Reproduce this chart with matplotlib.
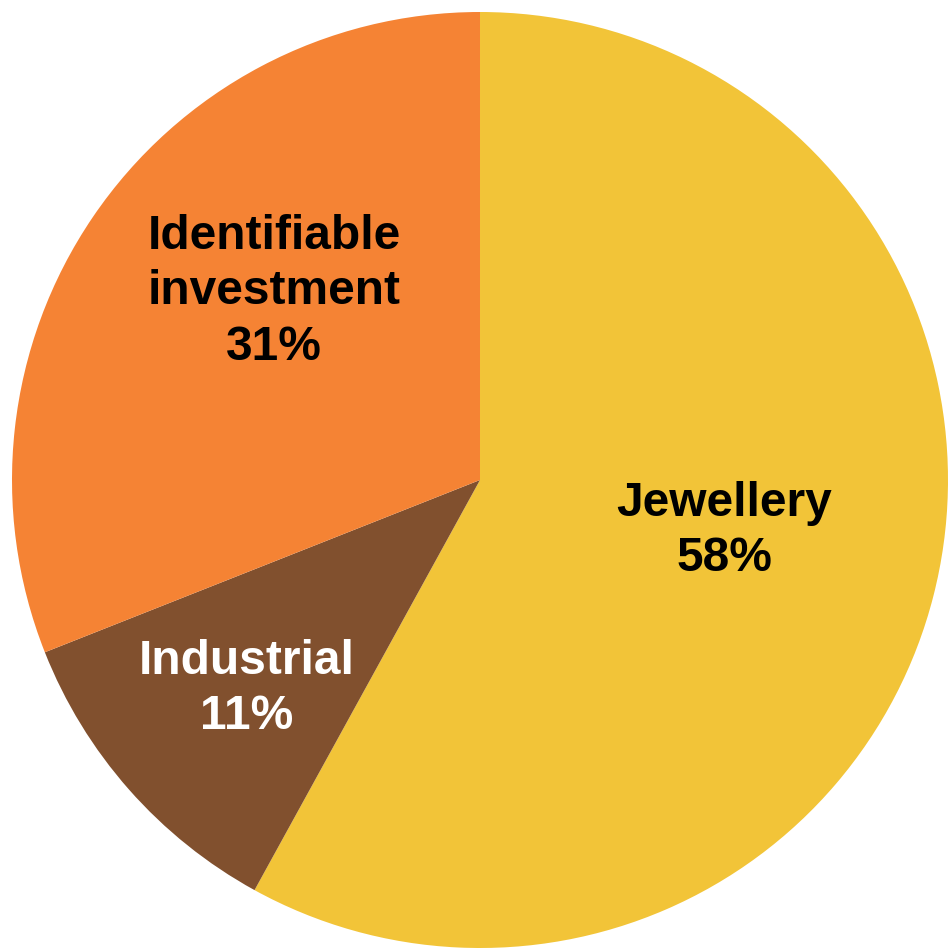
import matplotlib.pyplot as plt

plt.rcParams["font.family"] = ["Liberation Sans", "DejaVu Sans"]

segments = ["Jewellery", "Industrial", "Identifiable\ninvestment"]
shares = [58, 11, 31]
colors = ["#F2C438", "#81502E", "#F58334"]
text_colors = ["black", "white", "black"]
# label centres in axes fraction
label_pos = [(0.763, 0.440), (0.260, 0.273), (0.289, 0.692)]

fig = plt.figure(figsize=(9.49, 9.48), dpi=100)
ax = fig.add_axes([0, 0, 1, 1])

ax.pie(shares, colors=colors, startangle=90, counterclock=False,
       radius=1.0, wedgeprops=dict(linewidth=0))

# pie centre at (480, 480) px from top-left, radius 468 px
ax.set_aspect("auto")
ax.set_xlim(-480 / 468, (949 - 480) / 468)
ax.set_ylim(-(948 - 480) / 468, 480 / 468)
ax.axis("off")

for name, val, tc, (x, y) in zip(segments, shares, text_colors, label_pos):
    ax.text(x, y, f"{name}\n{val}%", transform=ax.transAxes,
            ha="center", va="center", fontsize=34.5, fontweight="bold",
            color=tc, linespacing=1.3)

fig.savefig("out.png", dpi=100)
